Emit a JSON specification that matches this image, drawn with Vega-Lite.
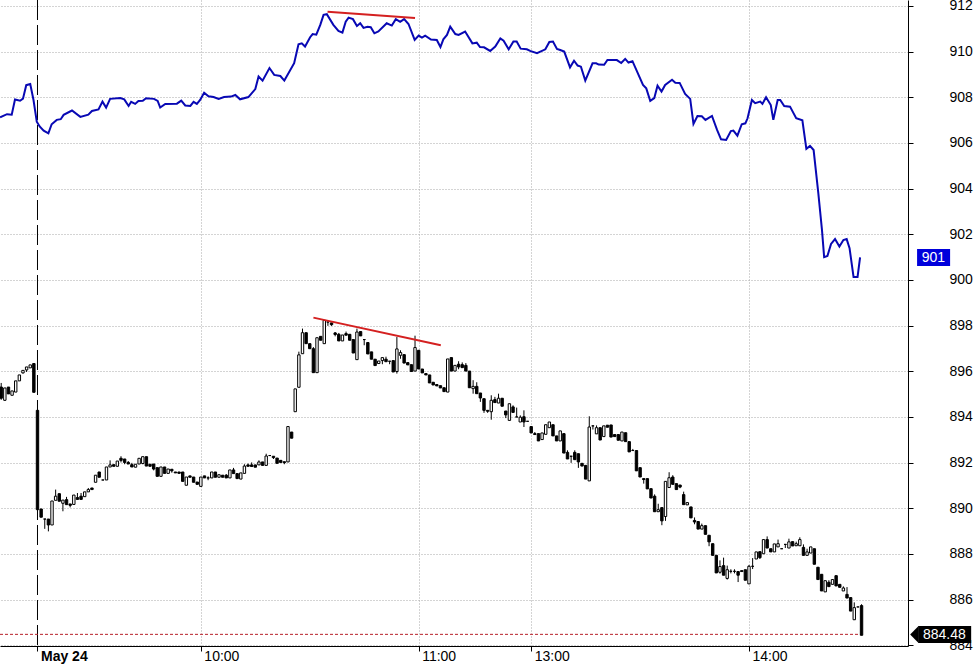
{"$schema":"https://vega.github.io/schema/vega-lite/v6.json","width":908,"height":646,"autosize":{"type":"none"},"padding":{"left":0,"top":0,"right":70,"bottom":19},"background":"#ffffff","config":{"view":{"stroke":null},"font":"Liberation Sans"},
"datasets":{
"candles":[
{"i":-10,"open":895.31,"high":895.49,"low":894.75,"close":894.82},
{"i":-9,"open":894.73,"high":895.27,"low":894.7,"close":895.27},
{"i":-8,"open":895.31,"high":895.31,"low":895.01,"close":895.01},
{"i":-7,"open":894.95,"high":895.14,"low":894.95,"close":895.14},
{"i":-6,"open":895.09,"high":895.58,"low":895.09,"close":895.58},
{"i":-5,"open":895.58,"high":895.84,"low":895.58,"close":895.84},
{"i":-4,"open":895.93,"high":896.04,"low":895.9,"close":896.04},
{"i":-3,"open":896.06,"high":896.19,"low":895.97,"close":896.19},
{"i":-2,"open":896.15,"high":896.28,"low":896.15,"close":896.28},
{"i":-1,"open":896.34,"high":896.34,"low":895.08,"close":895.08},
{"i":0,"open":894.29,"high":894.29,"low":889.94,"close":889.94},
{"i":1,"open":889.97,"high":889.97,"low":889.61,"close":889.61},
{"i":2,"open":889.53,"high":889.53,"low":889.1,"close":889.53},
{"i":3,"open":889.53,"high":889.53,"low":888.99,"close":889.27},
{"i":4,"open":889.27,"high":890.32,"low":889.27,"close":890.32},
{"i":5,"open":890.35,"high":890.82,"low":890.35,"close":890.53},
{"i":6,"open":890.64,"high":890.64,"low":890.31,"close":890.31},
{"i":7,"open":890.22,"high":890.36,"low":889.87,"close":890.36},
{"i":8,"open":890.38,"high":890.5,"low":890.16,"close":890.16},
{"i":9,"open":890.19,"high":890.19,"low":890.04,"close":890.13},
{"i":10,"open":890.17,"high":890.58,"low":890.17,"close":890.58},
{"i":11,"open":890.47,"high":890.67,"low":890.39,"close":890.39},
{"i":12,"open":890.53,"high":890.67,"low":890.39,"close":890.39},
{"i":13,"open":890.51,"high":890.72,"low":890.51,"close":890.72},
{"i":14,"open":890.72,"high":890.89,"low":890.72,"close":890.82},
{"i":15,"open":890.89,"high":890.89,"low":890.82,"close":890.82},
{"i":16,"open":891.14,"high":891.45,"low":891.14,"close":891.45},
{"i":17,"open":891.59,"high":891.59,"low":891.36,"close":891.36},
{"i":18,"open":891.24,"high":891.24,"low":891.24,"close":891.24},
{"i":19,"open":891.24,"high":891.81,"low":891.24,"close":891.81},
{"i":20,"open":891.81,"high":892.1,"low":891.81,"close":891.9},
{"i":21,"open":891.91,"high":891.91,"low":891.84,"close":891.84},
{"i":22,"open":891.84,"high":892.07,"low":891.84,"close":892.07},
{"i":23,"open":892.19,"high":892.28,"low":892.01,"close":892.1},
{"i":24,"open":892.16,"high":892.16,"low":891.93,"close":892.01},
{"i":25,"open":892.01,"high":892.07,"low":891.94,"close":891.94},
{"i":26,"open":891.91,"high":891.99,"low":891.81,"close":891.81},
{"i":27,"open":891.8,"high":891.93,"low":891.8,"close":891.93},
{"i":28,"open":891.94,"high":892.19,"low":891.94,"close":892.19},
{"i":29,"open":891.96,"high":892.26,"low":891.93,"close":892.26},
{"i":30,"open":892.26,"high":892.26,"low":891.85,"close":891.85},
{"i":31,"open":891.93,"high":891.93,"low":891.84,"close":891.84},
{"i":32,"open":891.94,"high":891.94,"low":891.66,"close":891.72},
{"i":33,"open":891.78,"high":891.78,"low":891.4,"close":891.4},
{"i":34,"open":891.4,"high":891.81,"low":891.4,"close":891.81},
{"i":35,"open":891.81,"high":891.81,"low":891.53,"close":891.53},
{"i":36,"open":891.53,"high":891.72,"low":891.53,"close":891.72},
{"i":37,"open":891.71,"high":891.71,"low":891.56,"close":891.64},
{"i":38,"open":891.59,"high":891.59,"low":891.55,"close":891.55},
{"i":39,"open":891.59,"high":891.59,"low":891.53,"close":891.53},
{"i":40,"open":891.59,"high":891.59,"low":891.18,"close":891.18},
{"i":41,"open":891.01,"high":891.37,"low":891.01,"close":891.37},
{"i":42,"open":891.42,"high":891.42,"low":891.36,"close":891.36},
{"i":43,"open":891.37,"high":891.37,"low":891.14,"close":891.14},
{"i":44,"open":891.15,"high":891.15,"low":891.05,"close":891.05},
{"i":45,"open":890.96,"high":891.37,"low":890.96,"close":891.37},
{"i":46,"open":891.42,"high":891.42,"low":891.33,"close":891.33},
{"i":47,"open":891.33,"high":891.4,"low":891.23,"close":891.33},
{"i":48,"open":891.33,"high":891.59,"low":891.33,"close":891.59},
{"i":49,"open":891.59,"high":891.59,"low":891.36,"close":891.36},
{"i":50,"open":891.36,"high":891.47,"low":891.36,"close":891.47},
{"i":51,"open":891.45,"high":891.45,"low":891.36,"close":891.36},
{"i":52,"open":891.45,"high":891.5,"low":891.33,"close":891.33},
{"i":53,"open":891.33,"high":891.68,"low":891.33,"close":891.68},
{"i":54,"open":891.68,"high":891.77,"low":891.52,"close":891.52},
{"i":55,"open":891.52,"high":891.52,"low":891.3,"close":891.3},
{"i":56,"open":891.28,"high":891.55,"low":891.28,"close":891.55},
{"i":57,"open":891.53,"high":891.93,"low":891.53,"close":891.85},
{"i":58,"open":891.9,"high":891.96,"low":891.84,"close":891.84},
{"i":59,"open":891.9,"high":892.01,"low":891.83,"close":891.83},
{"i":60,"open":891.9,"high":891.9,"low":891.8,"close":891.8},
{"i":61,"open":891.9,"high":892.1,"low":891.9,"close":892.03},
{"i":62,"open":892.03,"high":892.03,"low":891.88,"close":891.88},
{"i":63,"open":891.88,"high":892.39,"low":891.88,"close":892.29},
{"i":64,"open":892.31,"high":892.31,"low":892.31,"close":892.31},
{"i":65,"open":892.28,"high":892.28,"low":892.16,"close":892.22},
{"i":66,"open":892.2,"high":892.2,"low":891.97,"close":891.97},
{"i":67,"open":892.1,"high":892.1,"low":892.01,"close":892.01},
{"i":68,"open":892.04,"high":892.04,"low":891.93,"close":892.0},
{"i":69,"open":892.03,"high":893.58,"low":892.03,"close":893.58},
{"i":70,"open":893.34,"high":893.34,"low":893.07,"close":893.07},
{"i":71,"open":894.23,"high":895.23,"low":894.23,"close":895.23},
{"i":72,"open":895.3,"high":896.86,"low":895.3,"close":896.72},
{"i":73,"open":896.77,"high":897.87,"low":896.77,"close":897.69},
{"i":74,"open":897.69,"high":897.69,"low":897.21,"close":897.21},
{"i":75,"open":897.21,"high":897.21,"low":896.99,"close":896.99},
{"i":76,"open":896.99,"high":897.06,"low":895.94,"close":895.94},
{"i":77,"open":895.94,"high":897.47,"low":895.94,"close":897.47},
{"i":78,"open":897.53,"high":897.53,"low":897.36,"close":897.36},
{"i":79,"open":897.21,"high":898.23,"low":897.21,"close":898.23},
{"i":80,"open":898.16,"high":898.16,"low":897.99,"close":898.16},
{"i":81,"open":898.12,"high":898.12,"low":897.99,"close":898.04},
{"i":82,"open":897.68,"high":897.72,"low":897.53,"close":897.61},
{"i":83,"open":897.62,"high":897.68,"low":897.33,"close":897.33},
{"i":84,"open":897.33,"high":897.59,"low":897.33,"close":897.59},
{"i":85,"open":897.65,"high":897.74,"low":897.58,"close":897.58},
{"i":86,"open":897.62,"high":897.62,"low":897.36,"close":897.36},
{"i":87,"open":897.39,"high":897.39,"low":896.8,"close":896.8},
{"i":88,"open":896.51,"high":897.87,"low":896.51,"close":897.72},
{"i":89,"open":897.74,"high":897.74,"low":897.55,"close":897.55},
{"i":90,"open":897.39,"high":897.39,"low":897.14,"close":897.39},
{"i":91,"open":897.26,"high":897.26,"low":896.76,"close":896.76},
{"i":92,"open":896.85,"high":896.85,"low":896.53,"close":896.53},
{"i":93,"open":896.53,"high":896.53,"low":896.25,"close":896.25},
{"i":94,"open":896.34,"high":896.45,"low":896.34,"close":896.45},
{"i":95,"open":896.47,"high":896.6,"low":896.31,"close":896.6},
{"i":96,"open":896.53,"high":896.64,"low":896.42,"close":896.42},
{"i":97,"open":896.44,"high":896.44,"low":896.31,"close":896.44},
{"i":98,"open":896.47,"high":896.47,"low":895.97,"close":895.97},
{"i":99,"open":895.99,"high":897.5,"low":895.9,"close":896.98},
{"i":100,"open":896.7,"high":896.92,"low":896.55,"close":896.82},
{"i":101,"open":896.73,"high":896.73,"low":896.36,"close":896.36},
{"i":102,"open":896.38,"high":896.38,"low":896.28,"close":896.28},
{"i":103,"open":896.29,"high":896.29,"low":895.99,"close":895.99},
{"i":104,"open":896.01,"high":897.56,"low":896.01,"close":897.04},
{"i":105,"open":896.92,"high":896.92,"low":896.1,"close":896.1},
{"i":106,"open":896.1,"high":896.1,"low":895.93,"close":895.93},
{"i":107,"open":895.9,"high":895.9,"low":895.84,"close":895.84},
{"i":108,"open":895.84,"high":895.84,"low":895.49,"close":895.49},
{"i":109,"open":895.52,"high":895.52,"low":895.4,"close":895.4},
{"i":110,"open":895.42,"high":895.42,"low":895.36,"close":895.36},
{"i":111,"open":895.37,"high":895.37,"low":895.27,"close":895.27},
{"i":112,"open":895.28,"high":895.28,"low":895.11,"close":895.11},
{"i":113,"open":895.09,"high":896.54,"low":895.09,"close":896.54},
{"i":114,"open":896.6,"high":896.6,"low":896.01,"close":896.01},
{"i":115,"open":896.01,"high":896.26,"low":896.01,"close":896.26},
{"i":116,"open":896.31,"high":896.44,"low":896.09,"close":896.19},
{"i":117,"open":896.29,"high":896.39,"low":896.16,"close":896.16},
{"i":118,"open":896.26,"high":896.36,"low":896.01,"close":896.01},
{"i":119,"open":896.01,"high":896.01,"low":895.28,"close":895.28},
{"i":120,"open":895.24,"high":895.61,"low":895.02,"close":895.34},
{"i":121,"open":895.34,"high":895.52,"low":895.02,"close":895.02},
{"i":122,"open":895.05,"high":895.05,"low":894.66,"close":894.83},
{"i":123,"open":894.8,"high":894.8,"low":894.18,"close":894.29},
{"i":124,"open":894.29,"high":894.29,"low":894.18,"close":894.25},
{"i":125,"open":894.23,"high":894.95,"low":893.88,"close":894.73},
{"i":126,"open":894.76,"high":894.88,"low":894.63,"close":894.63},
{"i":127,"open":894.61,"high":895.02,"low":894.61,"close":894.82},
{"i":128,"open":894.82,"high":894.82,"low":894.47,"close":894.47},
{"i":129,"open":894.26,"high":894.26,"low":893.95,"close":894.09},
{"i":130,"open":893.85,"high":894.58,"low":893.85,"close":894.58},
{"i":131,"open":894.44,"high":894.51,"low":894.2,"close":894.2},
{"i":132,"open":894.0,"high":894.41,"low":894.0,"close":894.0},
{"i":133,"open":893.78,"high":894.07,"low":893.78,"close":893.99},
{"i":134,"open":894.01,"high":894.29,"low":893.56,"close":893.78},
{"i":135,"open":893.81,"high":893.81,"low":893.81,"close":893.81},
{"i":136,"open":893.58,"high":893.58,"low":893.3,"close":893.3},
{"i":137,"open":893.27,"high":893.34,"low":893.23,"close":893.23},
{"i":138,"open":893.27,"high":893.27,"low":892.95,"close":892.95},
{"i":139,"open":893.01,"high":893.3,"low":893.01,"close":893.3},
{"i":140,"open":893.24,"high":893.66,"low":893.24,"close":893.66},
{"i":141,"open":893.53,"high":893.78,"low":893.53,"close":893.78},
{"i":142,"open":893.66,"high":893.66,"low":893.17,"close":893.17},
{"i":143,"open":893.17,"high":893.17,"low":892.95,"close":892.95},
{"i":144,"open":892.95,"high":893.39,"low":892.95,"close":893.39},
{"i":145,"open":893.27,"high":893.27,"low":892.42,"close":892.42},
{"i":146,"open":892.45,"high":892.54,"low":892.16,"close":892.16},
{"i":147,"open":892.28,"high":892.28,"low":891.99,"close":892.28},
{"i":148,"open":892.45,"high":892.54,"low":892.13,"close":892.13},
{"i":149,"open":892.39,"high":892.39,"low":891.77,"close":892.03},
{"i":150,"open":891.97,"high":891.97,"low":891.85,"close":891.85},
{"i":151,"open":891.88,"high":891.88,"low":891.28,"close":891.28},
{"i":152,"open":891.2,"high":894.03,"low":891.2,"close":893.56},
{"i":153,"open":893.61,"high":893.61,"low":893.45,"close":893.61},
{"i":154,"open":893.26,"high":893.63,"low":893.26,"close":893.53},
{"i":155,"open":893.53,"high":893.53,"low":892.99,"close":892.99},
{"i":156,"open":893.14,"high":893.61,"low":893.14,"close":893.61},
{"i":157,"open":893.64,"high":893.64,"low":893.55,"close":893.55},
{"i":158,"open":893.65,"high":893.65,"low":893.12,"close":893.12},
{"i":159,"open":893.23,"high":893.23,"low":893.14,"close":893.14},
{"i":160,"open":893.23,"high":893.23,"low":892.98,"close":892.98},
{"i":161,"open":892.95,"high":893.34,"low":892.95,"close":893.34},
{"i":162,"open":893.31,"high":893.31,"low":892.92,"close":892.92},
{"i":163,"open":892.92,"high":892.92,"low":892.47,"close":892.47},
{"i":164,"open":892.53,"high":892.6,"low":892.53,"close":892.53},
{"i":165,"open":892.53,"high":892.53,"low":891.64,"close":891.64},
{"i":166,"open":891.78,"high":891.78,"low":891.37,"close":891.37},
{"i":167,"open":891.3,"high":891.3,"low":891.08,"close":891.26},
{"i":168,"open":891.3,"high":891.3,"low":890.85,"close":890.85},
{"i":169,"open":890.86,"high":890.86,"low":890.45,"close":890.45},
{"i":170,"open":890.53,"high":890.61,"low":889.85,"close":889.85},
{"i":171,"open":889.85,"high":890.2,"low":889.85,"close":889.94},
{"i":172,"open":890.03,"high":890.03,"low":889.26,"close":889.45},
{"i":173,"open":889.64,"high":891.18,"low":889.45,"close":891.18},
{"i":174,"open":890.91,"high":891.58,"low":890.91,"close":891.34},
{"i":175,"open":891.37,"high":891.45,"low":891.05,"close":891.05},
{"i":176,"open":891.08,"high":891.08,"low":890.82,"close":890.82},
{"i":177,"open":891.02,"high":891.02,"low":890.88,"close":890.93},
{"i":178,"open":890.6,"high":890.73,"low":890.16,"close":890.16},
{"i":179,"open":890.15,"high":890.25,"low":890.15,"close":890.25},
{"i":180,"open":890.06,"high":890.06,"low":889.58,"close":889.58},
{"i":181,"open":889.47,"high":889.6,"low":889.3,"close":889.4},
{"i":182,"open":889.42,"high":889.42,"low":889.09,"close":889.09},
{"i":183,"open":889.09,"high":889.33,"low":889.09,"close":889.24},
{"i":184,"open":889.24,"high":889.24,"low":888.86,"close":888.86},
{"i":185,"open":888.82,"high":888.82,"low":888.34,"close":888.53},
{"i":186,"open":888.45,"high":888.45,"low":887.94,"close":887.94},
{"i":187,"open":887.94,"high":887.94,"low":887.17,"close":887.17},
{"i":188,"open":887.2,"high":887.72,"low":887.14,"close":887.45},
{"i":189,"open":887.49,"high":887.84,"low":887.07,"close":887.07},
{"i":190,"open":886.93,"high":887.49,"low":886.88,"close":887.31},
{"i":191,"open":887.24,"high":887.33,"low":887.15,"close":887.24},
{"i":192,"open":887.24,"high":887.33,"low":887.15,"close":887.24},
{"i":193,"open":887.23,"high":887.23,"low":886.77,"close":887.07},
{"i":194,"open":887.27,"high":887.27,"low":887.23,"close":887.23},
{"i":195,"open":887.31,"high":887.31,"low":886.85,"close":886.85},
{"i":196,"open":886.69,"high":887.52,"low":886.69,"close":887.46},
{"i":197,"open":887.46,"high":887.82,"low":887.34,"close":887.46},
{"i":198,"open":887.78,"high":888.09,"low":887.78,"close":888.09},
{"i":199,"open":888.1,"high":888.1,"low":887.78,"close":887.84},
{"i":200,"open":888.01,"high":888.63,"low":888.01,"close":888.63},
{"i":201,"open":888.63,"high":888.77,"low":888.26,"close":888.26},
{"i":202,"open":888.23,"high":888.23,"low":888.09,"close":888.09},
{"i":203,"open":888.09,"high":888.44,"low":888.09,"close":888.44},
{"i":204,"open":888.31,"high":888.63,"low":888.31,"close":888.45},
{"i":205,"open":888.23,"high":888.23,"low":888.23,"close":888.23},
{"i":206,"open":888.42,"high":888.42,"low":888.26,"close":888.42},
{"i":207,"open":888.26,"high":888.67,"low":888.26,"close":888.53},
{"i":208,"open":888.54,"high":888.54,"low":888.35,"close":888.35},
{"i":209,"open":888.36,"high":888.54,"low":888.36,"close":888.45},
{"i":210,"open":888.36,"high":888.73,"low":888.36,"close":888.63},
{"i":211,"open":888.29,"high":888.42,"low":887.94,"close":887.94},
{"i":212,"open":887.94,"high":888.23,"low":887.94,"close":888.09},
{"i":213,"open":888.04,"high":888.31,"low":888.04,"close":888.31},
{"i":214,"open":888.23,"high":888.23,"low":887.55,"close":887.55},
{"i":215,"open":887.42,"high":887.42,"low":886.88,"close":886.88},
{"i":216,"open":887.11,"high":887.11,"low":886.38,"close":886.38},
{"i":217,"open":886.34,"high":886.83,"low":886.34,"close":886.83},
{"i":218,"open":886.76,"high":886.85,"low":886.57,"close":886.57},
{"i":219,"open":886.67,"high":886.88,"low":886.67,"close":886.88},
{"i":220,"open":887.05,"high":887.05,"low":886.6,"close":886.6},
{"i":221,"open":886.67,"high":886.67,"low":886.54,"close":886.54},
{"i":222,"open":886.38,"high":886.58,"low":886.38,"close":886.51},
{"i":223,"open":886.23,"high":886.55,"low":886.07,"close":886.07},
{"i":224,"open":886.09,"high":886.09,"low":885.5,"close":885.5},
{"i":225,"open":885.12,"high":885.88,"low":885.12,"close":885.65},
{"i":226,"open":885.68,"high":885.68,"low":885.68,"close":885.68},
{"i":227,"open":885.74,"high":885.8,"low":884.44,"close":884.44}
],
"blue":[
{"i":-10.3,"price":907.12},{"i":-8.4,"price":907.26},{"i":-7.1,"price":907.24},{"i":-6.2,"price":907.9},{"i":-4.8,"price":907.85},{"i":-4,"price":907.94},{"i":-3.1,"price":908.53},{"i":-2,"price":908.58},{"i":-1.1,"price":907.88},{"i":-0.2,"price":906.93},{"i":0.6,"price":906.72},{"i":1.7,"price":906.54},{"i":3,"price":906.42},{"i":3.9,"price":906.82},{"i":5.3,"price":907.01},{"i":6.4,"price":907.04},{"i":7.2,"price":907.23},{"i":9.5,"price":907.42},{"i":11.8,"price":907.14},{"i":14,"price":907.24},{"i":15,"price":907.4},{"i":16.8,"price":907.47},{"i":17.9,"price":907.81},{"i":18.9,"price":907.55},{"i":20,"price":907.93},{"i":22.8,"price":907.97},{"i":23.9,"price":907.91},{"i":25.1,"price":907.62},{"i":25.8,"price":907.8},{"i":26.9,"price":907.71},{"i":27.8,"price":907.84},{"i":29,"price":907.85},{"i":29.9,"price":907.96},{"i":32.1,"price":907.93},{"i":33.1,"price":907.84},{"i":33.8,"price":907.55},{"i":35.2,"price":907.71},{"i":38.4,"price":907.72},{"i":39.6,"price":907.85},{"i":40.7,"price":907.64},{"i":42.1,"price":907.62},{"i":43,"price":907.8},{"i":43.9,"price":907.71},{"i":44.8,"price":907.88},{"i":45.9,"price":908.2},{"i":47.1,"price":908.04},{"i":48.5,"price":908.01},{"i":49.9,"price":907.93},{"i":51.4,"price":908.01},{"i":53.3,"price":908.03},{"i":54.5,"price":908.1},{"i":55.8,"price":907.91},{"i":58.1,"price":908.01},{"i":60,"price":908.36},{"i":60.9,"price":908.91},{"i":62,"price":908.73},{"i":63.9,"price":909.28},{"i":65.2,"price":908.98},{"i":66.9,"price":908.93},{"i":68,"price":908.73},{"i":70.7,"price":909.49},{"i":71.9,"price":910.32},{"i":72.8,"price":910.36},{"i":73.7,"price":910.22},{"i":75.1,"price":910.63},{"i":75.8,"price":910.77},{"i":76.8,"price":910.74},{"i":77.9,"price":911.17},{"i":78.8,"price":911.61},{"i":79.7,"price":911.64},{"i":81.5,"price":911.17},{"i":82.9,"price":910.91},{"i":84,"price":910.83},{"i":84.9,"price":911.31},{"i":85.7,"price":911.49},{"i":86.9,"price":911.42},{"i":88,"price":911.12},{"i":88.9,"price":911.24},{"i":89.8,"price":911.04},{"i":90.9,"price":911.09},{"i":91.8,"price":911.07},{"i":92.8,"price":910.8},{"i":93.9,"price":910.88},{"i":96.2,"price":911.24},{"i":97.6,"price":911.14},{"i":98.7,"price":911.42},{"i":99.9,"price":911.3},{"i":101,"price":911.42},{"i":102.2,"price":911.21},{"i":103.9,"price":910.51},{"i":105,"price":910.7},{"i":105.9,"price":910.61},{"i":106.8,"price":910.7},{"i":108.4,"price":910.53},{"i":110,"price":910.51},{"i":111,"price":910.2},{"i":111.8,"price":910.54},{"i":112.8,"price":910.73},{"i":113.7,"price":911.09},{"i":115.1,"price":910.77},{"i":116,"price":910.73},{"i":117.8,"price":910.88},{"i":119.8,"price":910.36},{"i":121,"price":910.39},{"i":121.9,"price":910.2},{"i":123,"price":910.19},{"i":124.7,"price":910.03},{"i":126.1,"price":910.22},{"i":127.5,"price":910.58},{"i":128.4,"price":910.48},{"i":129.8,"price":910.1},{"i":131.1,"price":910.44},{"i":132,"price":910.44},{"i":133.1,"price":910.13},{"i":134.8,"price":910.1},{"i":135.7,"price":910.03},{"i":137.6,"price":909.93},{"i":139.9,"price":910.1},{"i":141,"price":910.42},{"i":142,"price":910.44},{"i":143.1,"price":910.12},{"i":144,"price":910.07},{"i":145.1,"price":910},{"i":146.7,"price":909.31},{"i":147.8,"price":909.6},{"i":148.8,"price":909.39},{"i":149.7,"price":909.34},{"i":150.9,"price":908.73},{"i":152.9,"price":909.49},{"i":153.9,"price":909.49},{"i":154.6,"price":909.43},{"i":156.1,"price":909.42},{"i":157,"price":909.63},{"i":159.6,"price":909.63},{"i":160.8,"price":909.5},{"i":161.9,"price":909.68},{"i":162.8,"price":909.52},{"i":163.9,"price":909.58},{"i":166.8,"price":908.54},{"i":167.7,"price":908.39},{"i":168.8,"price":907.84},{"i":169.9,"price":907.96},{"i":170.8,"price":908.51},{"i":171.9,"price":908.25},{"i":172.9,"price":908.54},{"i":174.8,"price":908.77},{"i":175.7,"price":908.64},{"i":176.9,"price":908.63},{"i":178.4,"price":908.15},{"i":179.8,"price":907.93},{"i":180.7,"price":906.83},{"i":181.8,"price":907.18},{"i":183,"price":907.17},{"i":184,"price":907.01},{"i":185.8,"price":907.18},{"i":187.2,"price":906.57},{"i":188.3,"price":906.16},{"i":189.7,"price":906.13},{"i":191,"price":906.52},{"i":191.7,"price":906.54},{"i":192.8,"price":906.32},{"i":194,"price":906.82},{"i":195,"price":906.86},{"i":195.6,"price":907.08},{"i":196.8,"price":907.88},{"i":197.7,"price":907.74},{"i":199.1,"price":907.81},{"i":199.7,"price":907.71},{"i":200.7,"price":908},{"i":202,"price":907.66},{"i":202.7,"price":907.01},{"i":203.9,"price":907.88},{"i":204.6,"price":907.88},{"i":205.7,"price":907.62},{"i":207.3,"price":907.59},{"i":209,"price":907.08},{"i":210.7,"price":906.99},{"i":211.8,"price":905.74},{"i":212.8,"price":905.87},{"i":213.8,"price":905.69},{"i":215.1,"price":903.79},{"i":216.1,"price":902.19},{"i":216.7,"price":901},{"i":217.6,"price":901.05},{"i":218.6,"price":901.58},{"i":219.7,"price":901.79},{"i":220.9,"price":901.46},{"i":222,"price":901.75},{"i":222.9,"price":901.79},{"i":223.7,"price":901.39},{"i":224.8,"price":900.13},{"i":225.9,"price":900.13},{"i":226.6,"price":900.99}
],
"trend":[
{"name":"upper","i":79.9,"price":911.75},{"name":"upper","i":104,"price":911.47},
{"name":"lower","i":76,"price":898.35},{"name":"lower","i":111.1,"price":897.14}
],
"flags":[
{"label":"901","x0":242.3,"x1":251.4,"xc":246.8,"top":901.36,"bot":900.61,"mid":900.98,"kind":"blue"},
{"label":"884.48","x0":242.6,"x1":257.2,"xc":249.8,"top":884.85,"bot":884.1,"mid":884.47,"kind":"black"}
],
"arrow":[
{"i":240.4,"top":884.47,"bot":884.47},{"i":242.7,"top":884.85,"bot":884.1}
],
"session":[{"i":0,"top":912.26,"bot":883.8}],
"last":[{"i":-10.33,"i2":227,"price":884.48}]
},
"encoding":{
"x":{"field":"i","type":"quantitative","title":null,"scale":{"domain":[-10.33,239.8],"nice":false,"zero":false,"padding":0},
"axis":{"values":[0,45,105,136,196],"orient":"bottom","grid":true,"gridColor":"#a8a8a8","gridDash":[1,2],"gridOpacity":{"condition":{"test":"datum.value===0","value":0},"value":1},"domainColor":"#000000","domainWidth":1,"tickColor":"#000000","tickSize":5,"labelColor":"#000000","labelFontSize":14,"labelFont":"Liberation Sans","labelAlign":"left","labelBaseline":"top","labelOffset":3,"labelPadding":-2,"labelFlush":false,"labelOverlap":false,"labelBound":false,"labelFontWeight":{"condition":{"test":"datum.value===0","value":"bold"},"value":"normal"},"labelExpr":"datum.value===0?'May 24':datum.value===45?'10:00':datum.value===105?'11:00':datum.value===136?'13:00':'14:00'"}},
"y":{"field":"price","type":"quantitative","title":null,"scale":{"domain":[883.97,912.26],"nice":false,"zero":false,"padding":0},
"axis":{"orient":"right","values":[884,886,888,890,892,894,896,898,900,902,904,906,908,910,912],"format":"d","grid":true,"gridColor":"#a8a8a8","gridDash":[1,2],"domainColor":"#000000","domainWidth":1,"tickColor":"#000000","tickSize":5,"labelColor":"#000000","labelFontSize":14,"labelFont":"Liberation Sans","labelAlign":"left","labelPadding":36,"labelOverlap":false,"labelBound":false,"labelFlush":false}}
},
"layer":[
{"data":{"name":"session"},"mark":{"type":"rule","color":"#000000","strokeWidth":1,"strokeDash":[20,5]},"encoding":{"y":{"field":"top","type":"quantitative"},"y2":{"field":"bot"}}},
{"data":{"name":"last"},"mark":{"type":"rule","color":"#b8202a","strokeWidth":1,"strokeDash":[3,2]},"encoding":{"x2":{"field":"i2"}}},
{"data":{"name":"candles"},"mark":{"type":"rule","color":"#000000","strokeWidth":1},"encoding":{"y":{"field":"high","type":"quantitative"},"y2":{"field":"low"}}},
{"data":{"name":"candles"},"mark":{"type":"bar","orient":"vertical","size":2.4,"stroke":"#000000","strokeWidth":1},"encoding":{"y":{"field":"open","type":"quantitative"},"y2":{"field":"close"},"fill":{"condition":{"test":"datum.close>datum.open","value":"#ffffff"},"value":"#000000"}}},
{"data":{"name":"blue"},"mark":{"type":"line","color":"#0808b4","strokeWidth":2,"interpolate":"linear"}},
{"data":{"name":"trend"},"mark":{"type":"line","color":"#d42020","strokeWidth":2},"encoding":{"detail":{"field":"name"}}},
{"data":{"name":"arrow"},"mark":{"type":"area","color":"#000000","orient":"vertical"},"encoding":{"y":{"field":"top","type":"quantitative"},"y2":{"field":"bot"}}},
{"data":{"name":"flags"},"mark":{"type":"rect"},"encoding":{"x":{"field":"x0","type":"quantitative"},"x2":{"field":"x1"},"y":{"field":"top","type":"quantitative"},"y2":{"field":"bot"},"fill":{"field":"kind","type":"nominal","scale":{"domain":["blue","black"],"range":["#0000dc","#000000"]},"legend":null}}},
{"data":{"name":"flags"},"mark":{"type":"text","color":"#ffffff","fontSize":14,"font":"Liberation Sans","align":"center","baseline":"middle"},"encoding":{"x":{"field":"xc","type":"quantitative"},"y":{"field":"mid","type":"quantitative"},"text":{"field":"label"}}}
]}
